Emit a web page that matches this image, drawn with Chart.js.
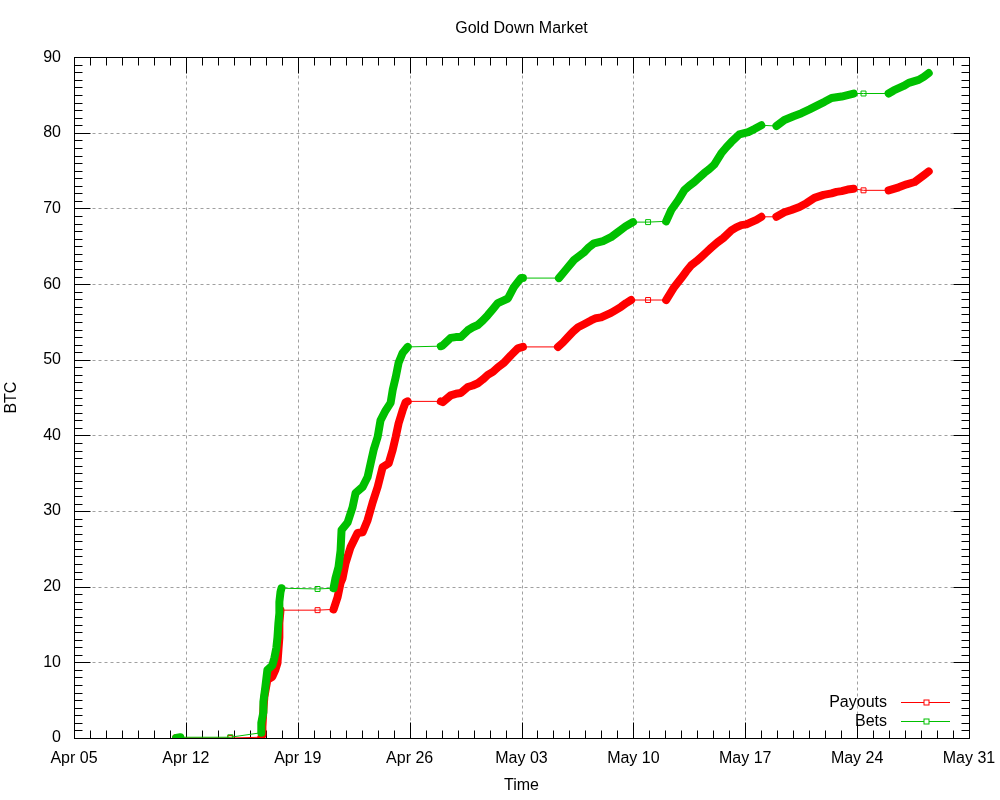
<!DOCTYPE html>
<html>
<head>
<meta charset="utf-8">
<title>Gold Down Market</title>
<script src="https://cdn.jsdelivr.net/npm/chart.js@4.4.0/dist/chart.umd.min.js"></script>
<style>
  html, body { margin: 0; padding: 0; background: #fff; }
  #wrap { width: 1000px; height: 800px; }
</style>
</head>
<body>
<div id="wrap"><canvas id="goldChart" width="1000" height="800"></canvas></div>
<script>
// x values are days since Apr 05
var tickLabels = ["Apr 05", "Apr 12", "Apr 19", "Apr 26", "May 03", "May 10", "May 17", "May 24", "May 31"];

var payoutDays = [
    6.39, 6.65, 9.78, 11.72, 11.79, 11.79, 11.85, 11.91, 12.10, 12.41, 12.60, 12.73, 12.79, 12.85, 12.85, 12.92,
    15.24, 16.24, 16.49, 16.68, 16.80, 16.99, 17.30, 17.74, 18.06, 18.37, 18.68, 19.00, 19.31, 19.69, 19.94, 20.13, 20.31, 20.56, 20.75, 20.88,
    22.95, 23.07, 23.57, 23.89, 24.20, 24.64, 24.95, 25.27, 25.58, 25.89, 26.21, 26.52, 26.90, 27.34, 27.77, 28.09,
    30.28, 30.60, 30.91, 31.22, 31.54, 31.91, 32.35, 32.66, 32.98, 33.29, 33.60, 33.92, 34.23, 34.55, 34.86,
    35.92, 37.05, 37.55, 38.00, 38.31, 38.62, 38.93, 39.25, 39.56, 39.87, 40.25, 40.63, 41.13, 41.44, 41.76, 42.07, 42.38, 42.70, 43.01,
    43.95, 44.45, 44.89, 45.39, 45.83, 46.33, 46.90, 47.40, 47.71, 48.03, 48.40, 48.78,
    49.40, 50.97, 51.29, 51.60, 52.10, 52.60, 53.17, 53.48
];
var payoutBTC = [
    0.0, 0.0, 0.0, 0.1, 0.4, 1.5, 3.7, 5.4, 7.7, 8.1, 9.0, 9.9, 11.6, 13.3, 15.2, 16.9,
    16.9, 17.0, 18.6, 20.5, 21.1, 23.1, 25.2, 27.1, 27.2, 28.8, 31.1, 33.2, 35.8, 36.3, 38.1, 39.8, 41.6, 43.3, 44.4, 44.5,
    44.5, 44.4, 45.3, 45.5, 45.6, 46.4, 46.6, 46.9, 47.4, 48.0, 48.4, 49.0, 49.6, 50.6, 51.5, 51.7,
    51.7, 52.3, 53.0, 53.7, 54.3, 54.7, 55.2, 55.5, 55.6, 55.9, 56.2, 56.6, 57.0, 57.5, 57.9,
    57.9, 57.9, 59.6, 60.8, 61.7, 62.5, 63.0, 63.6, 64.2, 64.8, 65.5, 66.1, 67.1, 67.5, 67.8, 67.9, 68.2, 68.5, 68.9,
    68.9, 69.5, 69.8, 70.2, 70.7, 71.4, 71.8, 72.0, 72.2, 72.3, 72.5, 72.6,
    72.4, 72.4, 72.6, 72.8, 73.2, 73.5, 74.4, 74.9
];

var betDays = [
    6.39, 6.65, 9.78, 11.72, 11.72, 11.85, 11.85, 11.97, 12.10, 12.41, 12.54, 12.66, 12.73, 12.79, 12.85, 12.85, 12.92, 12.98,
    15.24, 16.24, 16.36, 16.55, 16.68, 16.74, 17.12, 17.43, 17.62, 18.06, 18.37, 18.56, 18.75, 19.00, 19.18, 19.50, 19.81, 19.94, 20.13, 20.31, 20.56, 20.88,
    22.95, 23.07, 23.57, 23.89, 24.20, 24.64, 24.95, 25.27, 25.58, 25.89, 26.21, 26.52, 26.83, 27.15, 27.52, 27.96, 28.09,
    30.34, 30.66, 30.97, 31.29, 31.60, 31.91, 32.23, 32.54, 33.10, 33.60, 34.04, 34.55, 34.98,
    35.92, 37.05, 37.37, 37.81, 38.18, 38.50, 38.81, 39.12, 39.44, 39.75, 40.06, 40.50, 40.82, 41.13, 41.63, 42.19, 42.57, 43.01,
    43.95, 44.45, 45.02, 45.52, 46.02, 46.58, 46.96, 47.40, 47.71, 48.03, 48.40, 48.78,
    49.40, 50.97, 51.29, 51.60, 51.91, 52.23, 52.54, 52.85, 53.17, 53.48
];
var betBTC = [
    0.0, 0.1, 0.1, 0.7, 2.0, 3.4, 4.8, 6.7, 9.0, 9.6, 10.6, 11.9, 13.3, 15.2, 16.5, 18.0, 19.3, 19.8,
    19.7, 19.8, 21.1, 22.6, 24.8, 27.5, 28.5, 30.5, 32.4, 33.2, 34.5, 36.3, 38.1, 39.8, 42.0, 43.3, 44.3, 46.0, 47.7, 49.6, 50.9, 51.7,
    51.8, 51.9, 52.9, 53.0, 53.0, 53.9, 54.3, 54.6, 55.2, 55.9, 56.7, 57.5, 57.8, 58.1, 59.6, 60.8, 60.8,
    60.8, 61.6, 62.4, 63.2, 63.7, 64.2, 64.9, 65.4, 65.7, 66.2, 66.9, 67.7, 68.2,
    68.2, 68.3, 69.8, 71.1, 72.4, 73.0, 73.5, 74.1, 74.7, 75.2, 75.8, 77.3, 78.1, 78.8, 79.8, 80.1, 80.5, 81.0,
    80.9, 81.7, 82.2, 82.6, 83.1, 83.7, 84.1, 84.6, 84.7, 84.8, 85.0, 85.2,
    85.2, 85.2, 85.6, 85.9, 86.2, 86.6, 86.8, 87.0, 87.4, 87.9
];

var FONT = '"Liberation Sans", Arial, sans-serif';
var GAP = 0.58; // days; longer steps are drawn as thin connecting lines

function toPoints(days, vals) {
    return days.map(function(d, i) { return { x: d, y: vals[i] }; });
}

// a lone point (no close neighbour) gets a visible square marker
function isLone(data, i) {
    var prev = i > 0 ? data[i].x - data[i - 1].x : 99;
    var next = i < data.length - 1 ? data[i + 1].x - data[i].x : 99;
    return prev > GAP && next > GAP;
}

function series(label, color, days, vals, order) {
    return {
        label: label,
        data: toPoints(days, vals),
        borderColor: color,
        backgroundColor: color,
        order: order,
        borderCapStyle: 'round',
        borderJoinStyle: 'round',
        pointStyle: 'rect',
        pointBorderColor: color,
        pointBackgroundColor: 'rgba(0,0,0,0)',
        pointBorderWidth: 1,
        pointRadius: function(c) { return isLone(c.dataset.data, c.dataIndex) ? 3.5 : 0; },
        segment: {
            borderWidth: function(c) { return (c.p1.parsed.x - c.p0.parsed.x) > GAP ? 1 : 8; }
        }
    };
}

// gnuplot-like frame: dotted grid, inward major/minor tics on all sides, in-plot key
var gnuFrame = {
    id: 'gnuFrame',
    beforeDatasetsDraw: function(chart) {
        var c = chart.ctx, a = chart.chartArea, xs = chart.scales.x, ys = chart.scales.y;
        var L = Math.round(a.left) + 0.5, R = Math.round(a.right) + 0.5;
        var T = Math.round(a.top) + 0.5, B = Math.round(a.bottom) + 0.5;
        var v, p;
        c.save();
        c.lineWidth = 1;
        c.strokeStyle = '#a0a0a0';
        c.setLineDash([3, 3]);
        c.beginPath();
        for (v = 7; v < 56; v += 7) {
            p = Math.round(xs.getPixelForValue(v)) + 0.5;
            c.moveTo(p, T); c.lineTo(p, B);
        }
        for (v = 10; v < 90; v += 10) {
            p = Math.round(ys.getPixelForValue(v)) + 0.5;
            c.moveTo(L, p); c.lineTo(R, p);
        }
        c.stroke();
        c.setLineDash([]);
        c.strokeStyle = '#000';
        c.beginPath();
        for (v = 1; v < 56; v++) {
            var len = v % 7 === 0 ? 16 : 8;
            p = Math.round(xs.getPixelForValue(v)) + 0.5;
            c.moveTo(p, B); c.lineTo(p, B - len);
            c.moveTo(p, T); c.lineTo(p, T + len);
        }
        for (v = 1; v < 90; v++) {
            var ylen = v % 10 === 0 ? 16 : 8;
            p = Math.round(ys.getPixelForValue(v)) + 0.5;
            c.moveTo(L, p); c.lineTo(L + ylen, p);
            c.moveTo(R, p); c.lineTo(R - ylen, p);
        }
        c.stroke();
        c.strokeRect(L, T, R - L, B - T);
        c.restore();
    },
    afterDatasetsDraw: function(chart) {
        var c = chart.ctx, a = chart.chartArea;
        c.save();
        c.font = '16px ' + FONT;
        c.textAlign = 'right';
        c.textBaseline = 'middle';
        chart.data.datasets.forEach(function(ds, i) {
            var y = Math.round(a.bottom - 36 + i * 19) + 0.5;
            var x1 = Math.round(a.right - 68), x2 = Math.round(a.right - 19);
            var cx = Math.round((x1 + x2) / 2) + 0.5;
            c.fillStyle = '#000';
            c.fillText(ds.label, a.right - 82, y);
            c.strokeStyle = ds.borderColor;
            c.lineWidth = 1;
            c.beginPath();
            c.moveTo(x1, y); c.lineTo(x2, y);
            c.stroke();
            c.fillStyle = '#fff';
            c.fillRect(cx - 2.5, y - 2.5, 5, 5);
            c.strokeRect(cx - 2.5, y - 2.5, 5, 5);
        });
        c.restore();
    }
};

Chart.defaults.font.family = FONT;
Chart.defaults.font.size = 16;
Chart.defaults.color = '#000';

var ctx = document.getElementById('goldChart');
var goldChart = new Chart(ctx, {
    type: 'line',
    data: {
        datasets: [
            series('Payouts', '#ff0000', payoutDays, payoutBTC, 2),
            series('Bets', '#00c000', betDays, betBTC, 1)
        ]
    },
    options: {
        responsive: false,
        animation: false,
        events: [],
        layout: { padding: { left: 0, right: 31, top: 0, bottom: 0 } },
        plugins: {
            legend: { display: false },
            tooltip: { enabled: false },
            title: {
                display: true,
                fullSize: false,
                text: 'Gold Down Market',
                color: '#000',
                font: { size: 16, weight: 'normal' },
                padding: { top: 19, bottom: 19 }
            }
        },
        scales: {
            x: {
                type: 'linear',
                min: 0,
                max: 56,
                grid: { display: false, drawTicks: false, tickLength: 0 },
                border: { display: false },
                ticks: {
                    stepSize: 7,
                    padding: 11,
                    autoSkip: false,
                    maxRotation: 0,
                    callback: function(v) { return tickLabels[Math.round(v / 7)]; }
                },
                title: { display: true, text: 'Time', padding: { top: 0, bottom: 5 } },
                afterFit: function(s) { s.height = 62; s.paddingLeft = 0; s.paddingRight = 0; }
            },
            y: {
                min: 0,
                max: 90,
                grid: { display: false, drawTicks: false, tickLength: 0 },
                border: { display: false },
                ticks: { stepSize: 10, padding: 13 },
                title: { display: true, text: 'BTC', padding: { top: 2, bottom: 0 } },
                afterFit: function(s) { s.width = 74; s.paddingTop = 0; s.paddingBottom = 0; }
            }
        }
    },
    plugins: [gnuFrame]
});
</script>
</body>
</html>
